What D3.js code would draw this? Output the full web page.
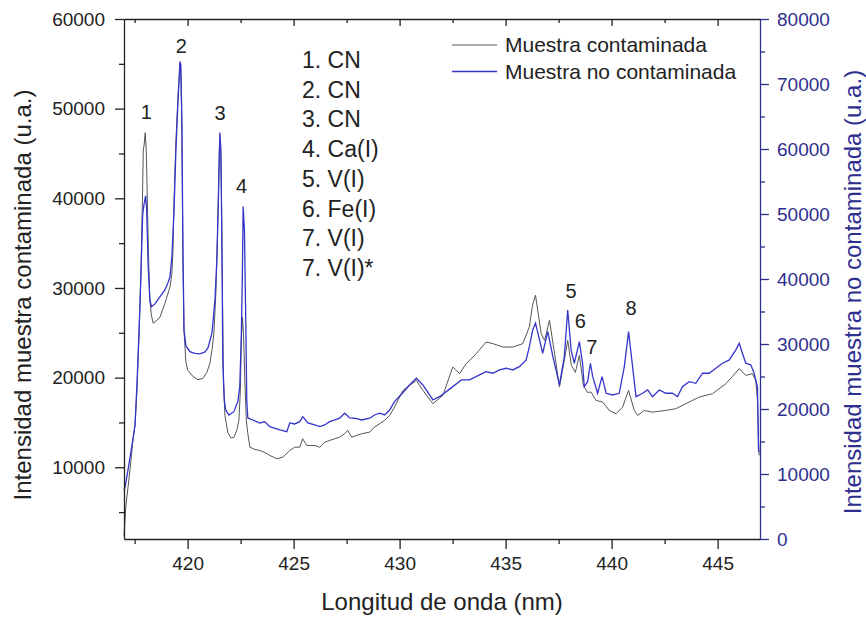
<!DOCTYPE html>
<html>
<head>
<meta charset="utf-8">
<script src="https://cdn.jsdelivr.net/npm/d3@7"></script>
<style>
  body { margin: 0; background: #fff; }
  svg { font-family: "Liberation Sans", Arial, sans-serif; }
</style>
</head>
<body>
<svg id="chart" width="866" height="617"></svg>
<script>
// espectros LIBS: [longitud de onda (nm), intensidad (u.a.)]
var contaminada = [
  [417.00, 2380], [417.09, 5730], [417.28, 9640], [417.42, 12990], [417.52, 14670],
  [417.61, 18580], [417.71, 24720], [417.80, 31980], [417.87, 39800], [417.91, 45380],
  [417.95, 45940], [418.00, 47320], [418.05, 45380], [418.08, 42030], [418.15, 34210],
  [418.22, 28630], [418.29, 26950], [418.38, 26060], [418.55, 26400], [418.70, 26760],
  [418.93, 28290], [419.17, 30120], [419.26, 31650], [419.31, 34210], [419.36, 39800],
  [419.45, 46500], [419.55, 51530], [419.64, 54880], [419.68, 54320], [419.73, 47620],
  [419.78, 33100], [419.83, 25280], [419.92, 21700], [420.01, 20810], [420.25, 20140],
  [420.49, 19770], [420.72, 19920], [420.91, 20590], [421.05, 21590], [421.15, 23040],
  [421.24, 24940], [421.34, 29750], [421.43, 37570], [421.50, 45380], [421.55, 46500],
  [421.59, 42030], [421.64, 30860], [421.69, 19690], [421.76, 15780], [421.90, 13880],
  [422.04, 13270], [422.18, 13330], [422.32, 14110], [422.42, 15230], [422.49, 18580],
  [422.53, 24160], [422.59, 26760], [422.64, 24720], [422.70, 19690], [422.77, 15230],
  [422.84, 13770], [422.94, 12240], [423.17, 11990], [423.41, 11870], [423.64, 11650],
  [423.88, 11320], [424.21, 10950], [424.49, 11130], [424.82, 11870], [425.05, 12240],
  [425.29, 12240], [425.43, 13180], [425.62, 12430], [426.00, 12430], [426.23, 12240],
  [426.47, 12800], [426.70, 12990], [426.94, 13180], [427.17, 13360], [427.41, 13740],
  [427.55, 14110], [427.74, 13360], [427.98, 13550], [428.21, 13740], [428.59, 13920],
  [428.82, 14480], [429.06, 14860], [429.29, 15230], [429.53, 15780], [429.76, 16710],
  [430.16, 18580], [430.47, 19130], [430.79, 19690], [431.10, 18580], [431.57, 17090],
  [432.04, 18020], [432.51, 21180], [432.83, 20440], [433.14, 21560], [433.62, 22680],
  [434.08, 23970], [434.40, 23790], [434.87, 23410], [435.34, 23410], [435.81, 23790],
  [436.12, 25650], [436.27, 28070], [436.41, 29190], [436.55, 26950], [436.68, 24910],
  [436.84, 24160], [437.07, 26400], [437.31, 22680], [437.54, 18940], [437.77, 21930],
  [437.93, 24160], [438.10, 21370], [438.29, 20590], [438.48, 22490], [438.67, 19130],
  [438.86, 18350], [439.03, 18390], [439.26, 17460], [439.58, 17270], [439.89, 16340],
  [440.21, 15970], [440.52, 16710], [440.80, 18580], [441.07, 16340], [441.23, 15780],
  [441.54, 16340], [441.93, 16150], [442.56, 16340], [443.03, 16530], [443.50, 17090],
  [444.13, 17830], [444.76, 18210], [445.39, 19320], [446.02, 21000], [446.33, 20250],
  [446.64, 20440], [446.80, 19690], [446.88, 17460], [446.93, 12990], [446.96, 11320]
];

var noContaminada = [
  [417.00, 7540], [417.05, 8000], [417.19, 10620], [417.38, 14470], [417.52, 17550],
  [417.61, 23700], [417.71, 32170], [417.80, 40630], [417.88, 49860], [417.94, 51400],
  [418.02, 52790], [418.07, 50630], [418.14, 41910], [418.22, 36780], [418.30, 35750],
  [418.46, 36170], [418.70, 37290], [418.93, 38320], [419.07, 39400], [419.17, 40370],
  [419.26, 43450], [419.36, 50630], [419.45, 59870], [419.55, 67560], [419.64, 73460],
  [419.68, 72950], [419.73, 64480], [419.78, 44480], [419.83, 32170], [419.92, 29700],
  [420.11, 28830], [420.34, 28550], [420.58, 28470], [420.82, 28780], [420.96, 29400],
  [421.15, 31700], [421.29, 36780], [421.38, 42940], [421.45, 52170], [421.52, 62530],
  [421.57, 59870], [421.62, 44480], [421.66, 27550], [421.73, 21390], [421.80, 19850],
  [421.95, 19080], [422.18, 19590], [422.37, 21130], [422.46, 23440], [422.53, 30630],
  [422.58, 39860], [422.62, 51140], [422.68, 47560], [422.75, 32170], [422.79, 21390],
  [422.84, 18620], [423.08, 18310], [423.41, 17850], [423.64, 18050], [423.88, 17280],
  [424.35, 16780], [424.68, 16510], [424.82, 17850], [425.05, 17700], [425.29, 18050],
  [425.43, 18820], [425.67, 17850], [426.00, 17550], [426.23, 17280], [426.47, 17550],
  [426.70, 18050], [426.94, 18310], [427.17, 18580], [427.41, 19350], [427.65, 18620],
  [427.88, 18580], [428.21, 18310], [428.59, 18580], [428.82, 19080], [429.06, 19350],
  [429.29, 19080], [429.53, 19850], [429.76, 21130], [430.14, 22470], [430.47, 23700],
  [430.79, 24730], [431.10, 23700], [431.32, 22620], [431.57, 21390], [431.88, 21900],
  [432.20, 22670], [432.51, 23440], [432.91, 24470], [433.30, 24470], [433.77, 25240],
  [434.08, 25750], [434.40, 25500], [434.71, 26010], [435.03, 26270], [435.34, 26010],
  [435.65, 26520], [435.97, 27550], [436.12, 29600], [436.28, 32170], [436.41, 33200],
  [436.60, 30630], [436.75, 28580], [436.99, 31900], [437.23, 28060], [437.40, 25700],
  [437.54, 23700], [437.77, 28060], [437.93, 35240], [438.09, 29090], [438.24, 27040],
  [438.48, 30360], [438.63, 27040], [438.71, 23440], [438.87, 24210], [439.00, 27040],
  [439.11, 24980], [439.34, 22420], [439.55, 24980], [439.74, 22420], [440.05, 22160],
  [440.36, 22420], [440.60, 26520], [440.80, 31900], [440.99, 26520], [441.15, 21900],
  [441.46, 22420], [441.70, 22930], [441.93, 21900], [442.25, 22930], [442.56, 22420],
  [442.87, 22420], [443.11, 21900], [443.34, 23440], [443.66, 24210], [443.97, 23960],
  [444.29, 25500], [444.60, 25500], [444.92, 26270], [445.23, 27040], [445.55, 27550],
  [445.86, 29090], [446.02, 30120], [446.17, 28580], [446.33, 27040], [446.57, 26780],
  [446.72, 25500], [446.88, 23440], [446.93, 13700], [446.96, 13390]
];

var xTicks = [420, 425, 430, 435, 440, 445];
var xMinor = [417.5, 422.5, 427.5, 432.5, 437.5, 442.5];
var leftTicks = [10000, 20000, 30000, 40000, 50000, 60000];
var leftMinor = [5000, 15000, 25000, 35000, 45000, 55000];
var rightTicks = [0, 10000, 20000, 30000, 40000, 50000, 60000, 70000, 80000];
var rightMinor = [5000, 15000, 25000, 35000, 45000, 55000, 65000, 75000];

var especies = ["1. CN", "2. CN", "3. CN", "4. Ca(I)", "5. V(I)", "6. Fe(I)", "7. V(I)", "7. V(I)*"];
// etiquetas de picos: [numero, longitud de onda, intensidad (eje izq.)]
var picos = [
  ["1", 418.05, 48900], ["2", 419.70, 56200], ["3", 421.53, 48700], ["4", 422.55, 40600],
  ["5", 438.09, 28850], ["6", 438.53, 25500], ["7", 439.07, 22650], ["8", 440.92, 27000]
];
var leyenda = ["Muestra contaminada", "Muestra no contaminada"];

var colorGris = "#555555",
    colorAzul = "#3535cc",
    colorEje2 = "#2e2e8e";

var svg = d3.select("#chart");
var plotLeft = 124, plotRight = 760, plotTop = 19, plotBottom = 539;

var x = d3.scaleLinear().domain([417, 447]).range([plotLeft, plotRight]);
var yL = d3.scaleLinear().domain([2000, 60000]).range([plotBottom, plotTop]);
var yR = d3.scaleLinear().domain([0, 80000]).range([plotBottom, plotTop]);

// lineas
var lineL = d3.line().x(function(d) { return x(d[0]); }).y(function(d) { return yL(d[1]); });
var lineR = d3.line().x(function(d) { return x(d[0]); }).y(function(d) { return yR(d[1]); });

svg.append("path").datum(contaminada)
  .attr("d", lineL).attr("fill", "none")
  .attr("stroke", colorGris).attr("stroke-width", 1);
svg.append("path").datum(noContaminada)
  .attr("d", lineR).attr("fill", "none")
  .attr("stroke", colorAzul).attr("stroke-width", 1.3);

// ejes
function estilo(g, color, size) {
  g.selectAll("path").attr("stroke", color).attr("stroke-width", 1.3);
  g.selectAll("line").attr("stroke", color).attr("stroke-width", 1.3);
  g.selectAll("text").attr("fill", color).style("font-size", size + "px")
    .style("font-family", "'Liberation Sans', Arial, sans-serif");
}

var gx = svg.append("g").attr("transform", "translate(0," + plotBottom + ")")
  .call(d3.axisBottom(x).tickValues(xTicks).tickSize(10).tickSizeOuter(0).tickPadding(8).tickFormat(d3.format("d")));
estilo(gx, "#222", 19);
var gxm = svg.append("g").attr("transform", "translate(0," + plotBottom + ")")
  .call(d3.axisBottom(x).tickValues(xMinor).tickSize(5).tickFormat(""));
gxm.select(".domain").remove();
estilo(gxm, "#222", 19);

var gt = svg.append("g").attr("transform", "translate(0," + plotTop + ")")
  .call(d3.axisBottom(x).tickValues(xTicks).tickSize(7).tickSizeOuter(0).tickFormat(""));
estilo(gt, "#222", 19);
var gtm = svg.append("g").attr("transform", "translate(0," + plotTop + ")")
  .call(d3.axisBottom(x).tickValues(xMinor).tickSize(4).tickFormat(""));
gtm.select(".domain").remove();
estilo(gtm, "#222", 19);

var gl = svg.append("g").attr("transform", "translate(" + plotLeft + ",0)")
  .call(d3.axisLeft(yL).tickValues(leftTicks).tickSize(9).tickSizeOuter(0).tickPadding(10).tickFormat(d3.format("d")));
estilo(gl, "#222", 19);
var glm = svg.append("g").attr("transform", "translate(" + plotLeft + ",0)")
  .call(d3.axisLeft(yL).tickValues(leftMinor).tickSize(5).tickFormat(""));
glm.select(".domain").remove();
estilo(glm, "#222", 19);

var gr = svg.append("g").attr("transform", "translate(" + plotRight + ",0)")
  .call(d3.axisRight(yR).tickValues(rightTicks).tickSize(9).tickSizeOuter(0).tickPadding(8).tickFormat(d3.format("d")));
estilo(gr, colorEje2, 19);
var grm = svg.append("g").attr("transform", "translate(" + plotRight + ",0)")
  .call(d3.axisRight(yR).tickValues(rightMinor).tickSize(5).tickFormat(""));
grm.select(".domain").remove();
estilo(grm, colorEje2, 19);

// titulos de ejes
svg.append("text").attr("x", (plotLeft + plotRight) / 2).attr("y", 610)
  .attr("text-anchor", "middle").style("font-size", "24px").attr("fill", "#222")
  .text("Longitud de onda (nm)");
svg.append("text").attr("transform", "translate(31,295) rotate(-90)")
  .attr("text-anchor", "middle").style("font-size", "24px").attr("fill", "#222")
  .text("Intensidad muestra contaminada (u.a.)");
svg.append("text").attr("transform", "translate(861,292) rotate(-90)")
  .attr("text-anchor", "middle").style("font-size", "24px").attr("fill", colorEje2)
  .text("Intensidad muestra no contaminada (u.a.)");

// lista de especies
svg.append("g").selectAll("text").data(especies).join("text")
  .attr("x", 302).attr("y", function(d, i) { return 68 + i * 29.7; })
  .style("font-size", "23px").attr("fill", "#222")
  .text(function(d) { return d; });

// numeros de picos
svg.append("g").selectAll("text").data(picos).join("text")
  .attr("x", function(d) { return x(d[1]); })
  .attr("y", function(d) { return yL(d[2]); })
  .attr("text-anchor", "middle")
  .style("font-size", "20px").attr("fill", "#222")
  .text(function(d) { return d[0]; });

// leyenda
var lg = svg.append("g").selectAll("g").data(leyenda).join("g")
  .attr("transform", function(d, i) { return "translate(452," + (45 + i * 26.5) + ")"; });
lg.append("line").attr("x1", 0).attr("x2", 45).attr("y1", 0).attr("y2", 0)
  .attr("stroke", function(d, i) { return i == 0 ? colorGris : colorAzul; })
  .attr("stroke-width", function(d, i) { return i == 0 ? 1 : 1.3; });
lg.append("text").attr("x", 53).attr("y", 7)
  .style("font-size", "21px").attr("fill", "#222")
  .text(function(d) { return d; });
</script>
</body>
</html>
